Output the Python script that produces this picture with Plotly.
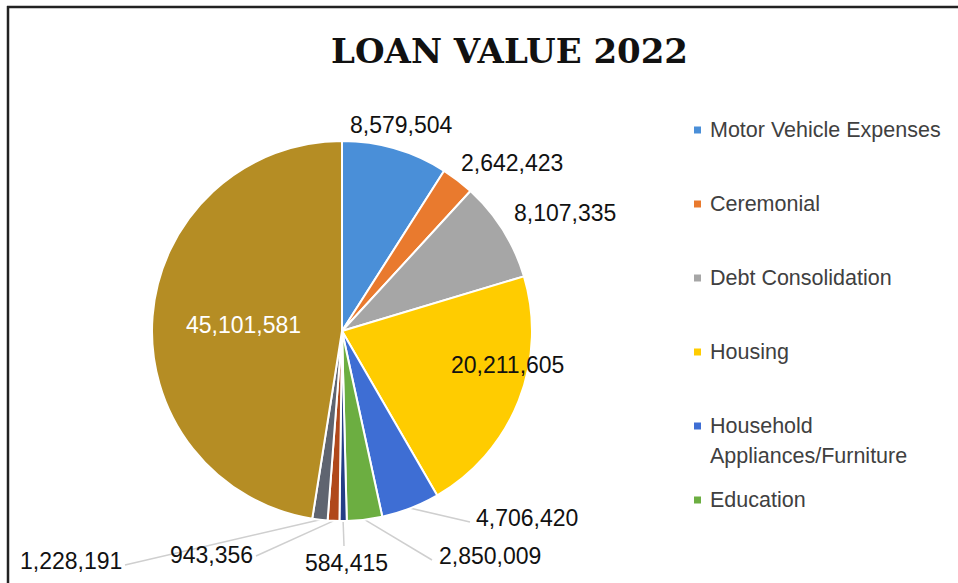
import math
import plotly.graph_objects as go

W, H = 958, 583

# Loan value by purpose, 2022
categories = [
    "Motor Vehicle Expenses",
    "Ceremonial",
    "Debt Consolidation",
    "Housing",
    "Household Appliances/Furniture",
    "Education",
    "Other 1",
    "Other 2",
    "Other 3",
    "Other 4",
]
values = [8579504, 2642423, 8107335, 20211605, 4706420, 2850009,
          584415, 943356, 1228191, 45101581]
legend_count = 6  # only the first six purposes appear in the key

colors = ["#4a8fd8", "#e97a2e", "#a6a6a6", "#ffcc00", "#3e6ed4", "#6cae41",
          "#243f86", "#b0481b", "#5f6470", "#b58d24"]

# pie geometry (pixels)
cx, cy, R = 342, 331, 190


def px(x):
    return x / W


def py(y):
    return 1 - y / H


fig = go.Figure(go.Pie(
    labels=categories,
    values=values,
    sort=False,
    direction="clockwise",
    rotation=0,
    textinfo="none",
    marker=dict(colors=colors, line=dict(color="white", width=2)),
    domain=dict(x=[px(cx - R), px(cx + R)], y=[py(cy + R), py(cy - R)]),
    showlegend=False,
    hoverinfo="label+value",
))

# label placement: text centre, text colour, leader-line end (or None)
label_pos = [
    ((401, 125), "#111", None),
    ((512, 163), "#111", None),
    ((565, 213), "#111", None),
    ((507, 365), "#111", None),
    ((527, 518), "#111", (470, 522)),
    ((490, 556), "#111", (432, 560)),
    ((346, 563), "#111", (344, 546)),
    ((211, 555), "#111", (256, 556)),
    ((71, 561), "#111", (125, 565)),
    ((243, 325), "#ffffff", None),
]

total = sum(values)
shapes = []
annotations = []
cum = 0.0
for v, ((tx, ty), tc, lead) in zip(values, label_pos):
    mid = (cum + v / 2) / total * 2 * math.pi
    cum += v
    if lead is not None:
        sx = cx + R * math.sin(mid)
        sy = cy - R * math.cos(mid)
        shapes.append(dict(type="line", xref="paper", yref="paper",
                           x0=px(sx), y0=py(sy), x1=px(lead[0]), y1=py(lead[1]),
                           line=dict(color="#cfcfcf", width=1.5), layer="below"))
    annotations.append(dict(
        x=px(tx), y=py(ty), xref="paper", yref="paper", showarrow=False,
        text=f"{v:,}", xanchor="center", yanchor="middle",
        font=dict(family="Liberation Sans, Arial, sans-serif", size=23, color=tc),
    ))

# key on the right
ly0, lstep, lline = 130, 74, 30
for i in range(legend_count):
    name = categories[i]
    lines = name.split(" ", 1) if len(name) > 25 else [name]
    y = ly0 + i * lstep
    shapes.append(dict(type="rect", xref="paper", yref="paper",
                       x0=px(694), x1=px(701), y0=py(y - 3.5), y1=py(y + 3.5),
                       fillcolor=colors[i], line=dict(width=0)))
    for j, ln in enumerate(lines):
        annotations.append(dict(
            x=px(708), y=py(y + j * lline), xref="paper", yref="paper",
            showarrow=False, text=ln, xanchor="left", yanchor="middle",
            font=dict(family="Liberation Sans, Arial, sans-serif", size=21.5,
                      color="#404040"),
        ))

# title
annotations.append(dict(
    x=px(510), y=py(51), xref="paper", yref="paper", showarrow=False,
    text="<b>LOAN VALUE 2022</b>", xanchor="center", yanchor="middle",
    font=dict(family="DejaVu Serif, serif", size=34, color="#111111"),
))

# frame
shapes.append(dict(type="line", xref="paper", yref="paper",
                   x0=px(8), x1=px(8), y0=py(6), y1=py(H + 5),
                   line=dict(color="#222222", width=2.5)))
shapes.append(dict(type="line", xref="paper", yref="paper",
                   x0=px(7), x1=px(W + 5), y0=py(7), y1=py(7),
                   line=dict(color="#222222", width=2.5)))

fig.update_layout(
    width=W, height=H,
    margin=dict(l=0, r=0, t=0, b=0),
    paper_bgcolor="white",
    plot_bgcolor="white",
    shapes=shapes,
    annotations=annotations,
)

fig.write_html("out.html")
